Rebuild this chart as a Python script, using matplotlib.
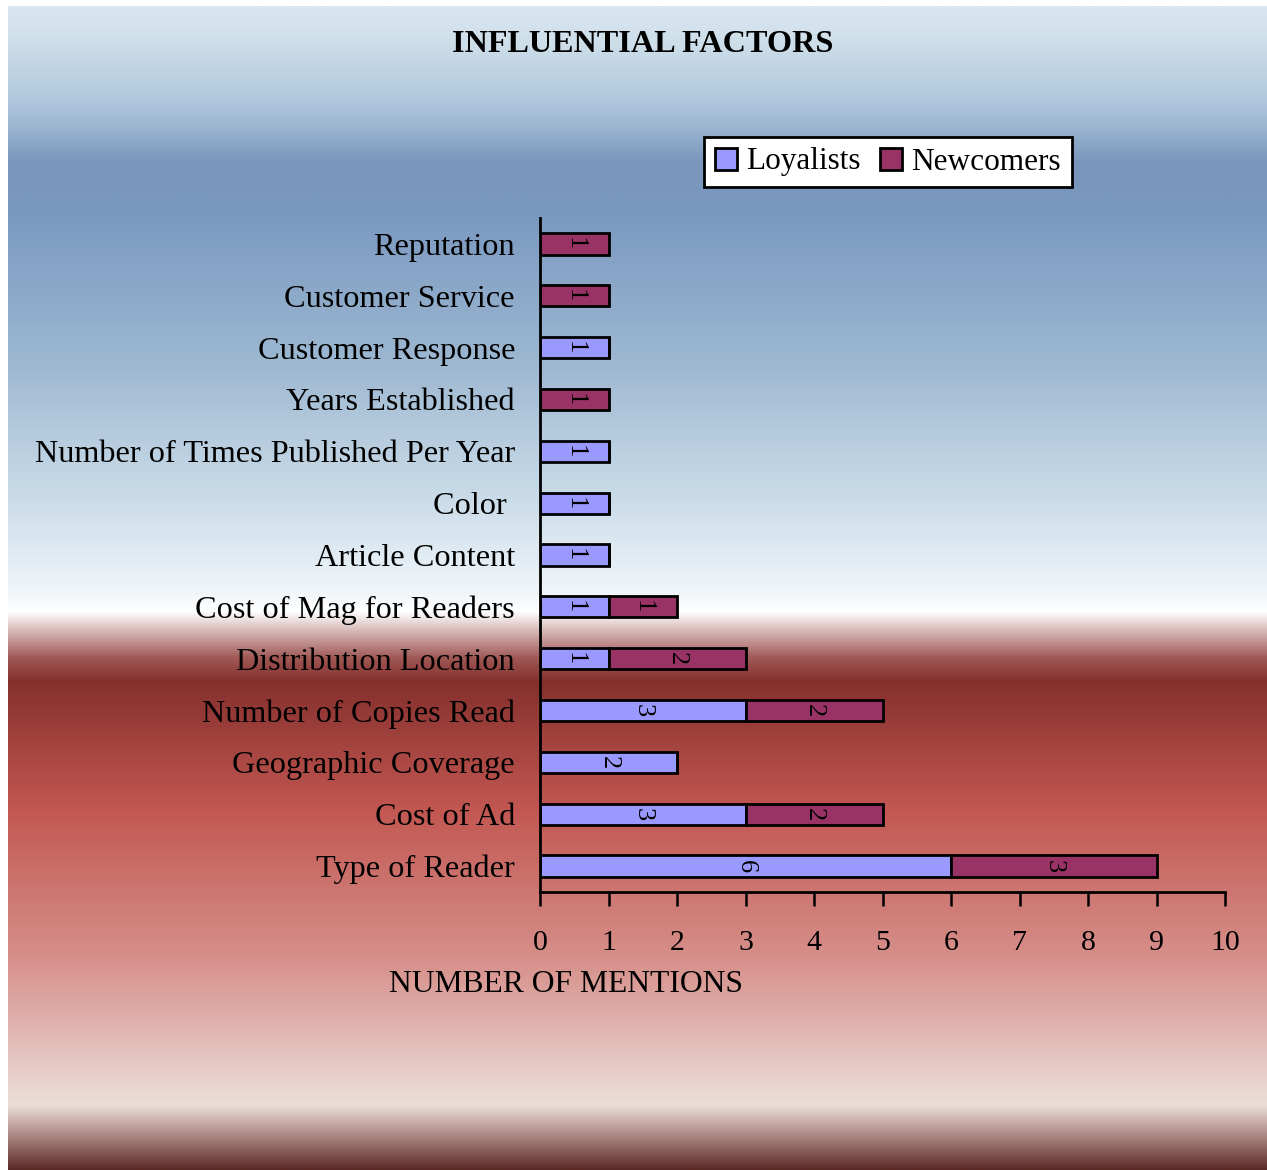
import matplotlib.pyplot as plt
import numpy as np
from matplotlib.colors import LinearSegmentedColormap

# ---------------------------------------------------------------------------
# Data
# ---------------------------------------------------------------------------

factors = [
    "Reputation",
    "Customer Service",
    "Customer Response",
    "Years Established",
    "Number of Times Published Per Year",
    "Color ",
    "Article Content",
    "Cost of Mag for Readers",
    "Distribution Location",
    "Number of Copies Read",
    "Geographic Coverage",
    "Cost of Ad",
    "Type of Reader",
]
loyalists = [0, 0, 1, 0, 1, 1, 1, 1, 1, 3, 2, 3, 6]
newcomers = [1, 1, 0, 1, 0, 0, 0, 1, 2, 2, 0, 2, 3]

series_names = ["Loyalists", "Newcomers"]
series_colors = ["#9999ff", "#993366"]

plt.rcParams["font.family"] = ["Liberation Serif", "DejaVu Serif"]

W, H = 1267, 1170
fig = plt.figure(figsize=(W / 100, H / 100), dpi=100, facecolor="white")

# ---------------------------------------------------------------------------
# Background gradient (blue sky fading to white, then red fading to pink)
# ---------------------------------------------------------------------------

stops = [
    (0.000, "#d9e7f2"),
    (0.030, "#cfdfea"),
    (0.090, "#a9c2da"),
    (0.135, "#7a95bb"),
    (0.175, "#7a98c0"),
    (0.300, "#9bb6d0"),
    (0.420, "#c9dbe8"),
    (0.505, "#f1f6fa"),
    (0.520, "#ffffff"),
    (0.560, "#a05956"),
    (0.580, "#85302d"),
    (0.690, "#c25752"),
    (0.820, "#d7908b"),
    (0.930, "#ead6d2"),
    (0.945, "#e9ddd8"),
    (0.960, "#c7aaa5"),
    (1.000, "#5c2a26"),
]
bg_cmap = LinearSegmentedColormap.from_list("bg", stops, N=1024)
bg_ax = fig.add_axes([8 / W, 0, 1 - 8 / W, 1 - 6 / H])
bg_ax.imshow(np.linspace(0, 1, 1024).reshape(-1, 1), aspect="auto",
             cmap=bg_cmap, extent=[0, 1, 1, 0])
bg_ax.axis("off")

# ---------------------------------------------------------------------------
# Stacked horizontal bars
# ---------------------------------------------------------------------------

left, right, top, bottom = 540, 1225, 218, 892
ax = fig.add_axes([left / W, 1 - bottom / H, (right - left) / W, (bottom - top) / H])
ax.patch.set_alpha(0)

y = np.arange(len(factors))
bar_h = 0.41
starts = np.zeros(len(factors))
for name, vals, color in zip(series_names, [loyalists, newcomers], series_colors):
    vals = np.array(vals)
    bars = ax.barh(y, vals, left=starts, height=bar_h, color=color,
                   edgecolor="black", linewidth=2, label=name)
    for rect, v in zip(bars, vals):
        if v == 0:
            continue
        ax.text(rect.get_x() + rect.get_width() / 2, rect.get_y() + rect.get_height() / 2,
                str(v), rotation=-90, ha="center", va="center", fontsize=19)
    starts += vals

ax.set_xlim(0, 10)
ax.set_ylim(len(factors) - 0.5, -0.5)
ax.set_xticks(range(11))
ax.set_yticks(y)
ax.set_yticklabels(factors, fontsize=23.2)
ax.tick_params(axis="y", length=0, pad=18)
ax.tick_params(axis="x", direction="out", length=10, width=1.8, labelsize=21.5, pad=17)
for side in ["top", "right"]:
    ax.spines[side].set_visible(False)
for side in ["left", "bottom"]:
    ax.spines[side].set_linewidth(2)

fig.text(566 / W, 1 - 985 / H, "NUMBER OF MENTIONS", ha="center", va="center", fontsize=22.8)
fig.text(643 / W, 1 - 44 / H, "INFLUENTIAL FACTORS", ha="center", va="center",
         fontsize=23.2, fontweight="bold")

leg = fig.legend(loc="center", bbox_to_anchor=(888 / W, 1 - 162 / H), ncol=2,
                 fontsize=22.5, frameon=True, fancybox=False, edgecolor="black",
                 handlelength=0.7, handleheight=0.7, handletextpad=0.3,
                 columnspacing=0.6, borderpad=0.35)
leg.get_frame().set_linewidth(2)
leg.get_frame().set_facecolor("white")
leg.get_frame().set_alpha(1)

fig.savefig("out.png", dpi=100, facecolor="white")
